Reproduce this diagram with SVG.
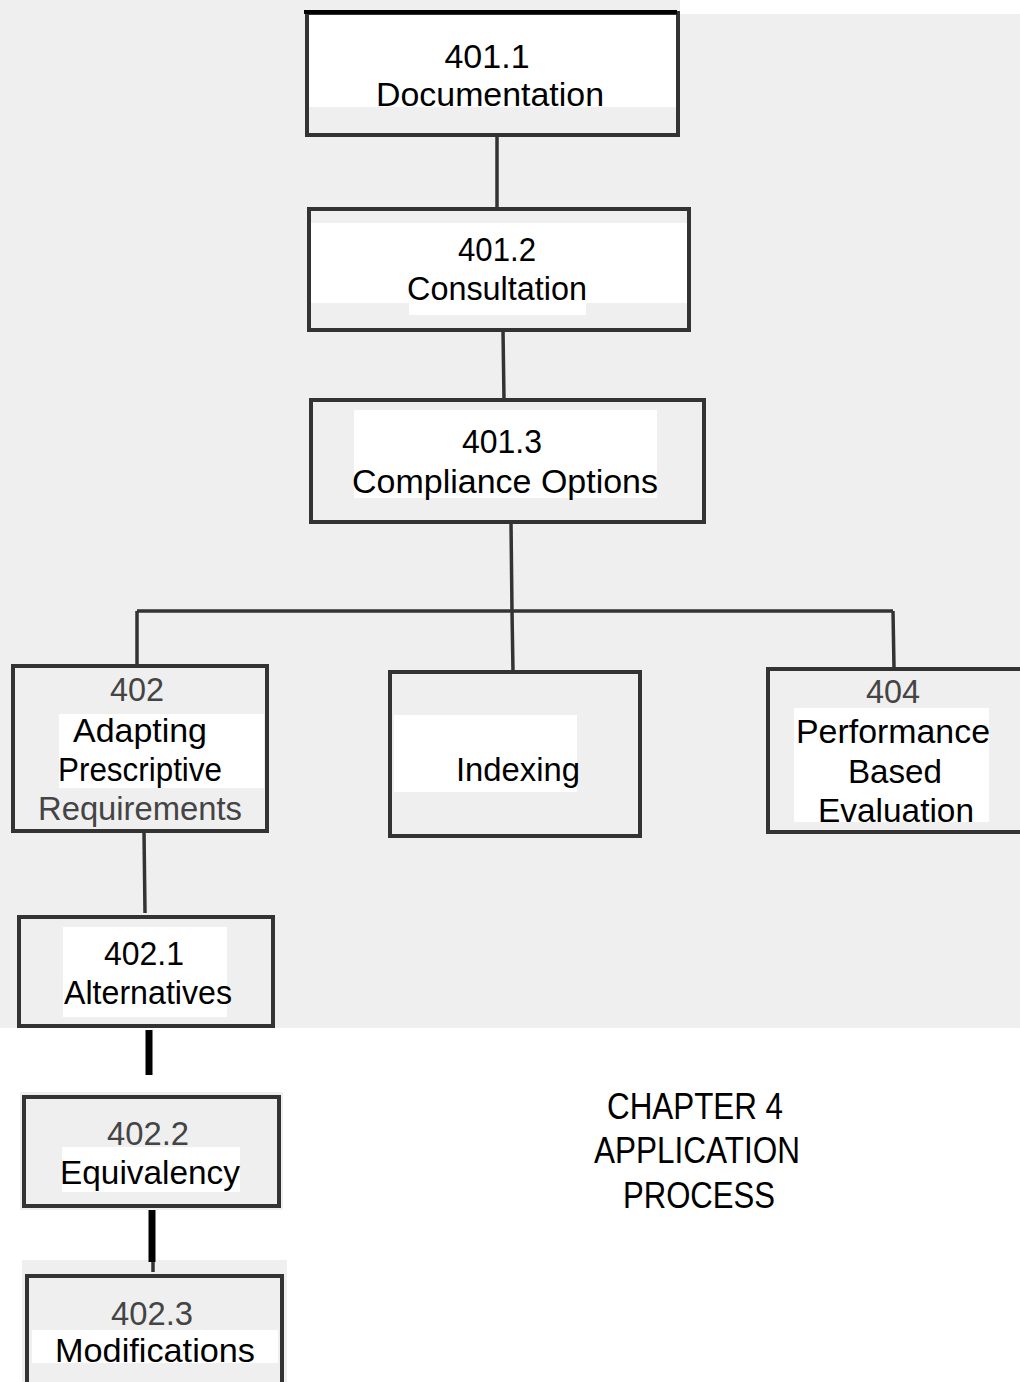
<svg xmlns="http://www.w3.org/2000/svg" width="1020" height="1382" viewBox="0 0 1020 1382">
<style>
.bg{fill:#efefef}
.wp{fill:#ffffff}
.box{fill:none;stroke:#333;stroke-width:4}
.ln{fill:none;stroke:#333;stroke-width:3.5}
.tk{fill:none;stroke:#000;stroke-width:7}
text{font-family:"Liberation Sans",Arial,sans-serif;font-size:34px;fill:#000;text-anchor:middle}
.g{fill:#444}
.ch{font-size:37px}
</style>
<rect x="0" y="0" width="1020" height="1382" fill="#ffffff"/>
<rect class="bg" x="0" y="0" width="1020" height="1028"/>
<rect fill="#ffffff" x="680" y="0" width="340" height="14"/>
<rect class="bg" x="20" y="1092" width="263" height="118"/>
<rect class="bg" x="22" y="1260" width="265" height="122"/>

<g id="connectors">
  <line class="ln" x1="497" y1="135" x2="497" y2="208"/>
  <line class="ln" x1="503" y1="330" x2="504" y2="400"/>
  <line class="ln" x1="511" y1="522" x2="512" y2="611"/>
  <line class="ln" x1="137" y1="611" x2="893" y2="611"/>
  <line class="ln" x1="137" y1="611" x2="137" y2="665"/>
  <line class="ln" x1="512" y1="611" x2="513" y2="672"/>
  <line class="ln" x1="893" y1="611" x2="894" y2="668"/>
  <line class="ln" x1="144" y1="832" x2="145" y2="913"/>
  <line class="tk" x1="149" y1="1030" x2="149" y2="1075"/>
  <line class="tk" x1="152" y1="1210" x2="152" y2="1262"/>
  <line class="ln" x1="153" y1="1262" x2="153" y2="1272"/>
</g>

<g id="n4011">
  <rect class="wp" x="306" y="14" width="372" height="93"/>
  <rect class="box" x="307" y="13" width="371" height="122"/>
  <line x1="304" y1="12" x2="677" y2="12" stroke="#000" stroke-width="4"/>
  <text x="487" y="68">401.1</text>
  <text x="490" y="106" textLength="228" lengthAdjust="spacingAndGlyphs">Documentation</text>
</g>

<g id="n4012">
  <rect class="wp" x="308" y="223" width="380" height="80"/>
  <rect class="wp" x="409" y="303" width="177" height="12"/>
  <rect class="box" x="309" y="209" width="380" height="121"/>
  <text x="497" y="261" textLength="78" lengthAdjust="spacingAndGlyphs">401.2</text>
  <text x="497" y="300" textLength="180" lengthAdjust="spacingAndGlyphs">Consultation</text>
</g>

<g id="n4013">
  <rect class="wp" x="354" y="410" width="303" height="88"/>
  <rect class="box" x="311" y="400" width="393" height="122"/>
  <text x="502" y="453" textLength="80" lengthAdjust="spacingAndGlyphs">401.3</text>
  <text x="505" y="493" textLength="306" lengthAdjust="spacingAndGlyphs">Compliance Options</text>
</g>

<g id="n402">
  <rect class="wp" x="59" y="714" width="205" height="74"/>
  <rect class="box" x="13" y="666" width="254" height="165"/>
  <text class="g" x="137" y="701" textLength="54" lengthAdjust="spacingAndGlyphs">402</text>
  <text x="140" y="742" textLength="134" lengthAdjust="spacingAndGlyphs">Adapting</text>
  <text x="140" y="781" textLength="164" lengthAdjust="spacingAndGlyphs">Prescriptive</text>
  <text class="g" x="140" y="820" textLength="204" lengthAdjust="spacingAndGlyphs">Requirements</text>
</g>

<g id="nindexing">
  <rect class="wp" x="394" y="715" width="183" height="77"/>
  <rect class="box" x="390" y="672" width="250" height="164"/>
  <text x="518" y="781" textLength="124" lengthAdjust="spacingAndGlyphs">Indexing</text>
</g>

<g id="n404">
  <rect class="wp" x="794" y="708" width="195" height="114"/>
  <rect class="box" x="768" y="669" width="260" height="163"/>
  <text class="g" x="893" y="703" textLength="54" lengthAdjust="spacingAndGlyphs">404</text>
  <text x="893" y="743" textLength="194" lengthAdjust="spacingAndGlyphs">Performance</text>
  <text x="895" y="783" textLength="94" lengthAdjust="spacingAndGlyphs">Based</text>
  <text x="896" y="822" textLength="156" lengthAdjust="spacingAndGlyphs">Evaluation</text>
</g>

<g id="n4021">
  <rect class="wp" x="63" y="927" width="164" height="90"/>
  <rect class="box" x="19" y="917" width="254" height="109"/>
  <text x="144" y="965" textLength="80" lengthAdjust="spacingAndGlyphs">402.1</text>
  <text x="148" y="1004" textLength="168" lengthAdjust="spacingAndGlyphs">Alternatives</text>
</g>

<g id="n4022">
  <rect class="wp" x="62" y="1147" width="178" height="45"/>
  <rect class="box" x="24" y="1097" width="255" height="109"/>
  <text class="g" x="148" y="1145" textLength="82" lengthAdjust="spacingAndGlyphs">402.2</text>
  <text x="150" y="1184" textLength="180" lengthAdjust="spacingAndGlyphs">Equivalency</text>
</g>

<g id="n4023">
  <rect class="wp" x="32" y="1330" width="246" height="33"/>
  <rect class="box" x="27" y="1276" width="255" height="120"/>
  <text class="g" x="152" y="1325" textLength="82" lengthAdjust="spacingAndGlyphs">402.3</text>
  <text x="155" y="1362" textLength="200" lengthAdjust="spacingAndGlyphs">Modifications</text>
</g>

<g id="title">
  <text class="ch" x="695" y="1119" textLength="176" lengthAdjust="spacingAndGlyphs">CHAPTER 4</text>
  <text class="ch" x="697" y="1163" textLength="206" lengthAdjust="spacingAndGlyphs">APPLICATION</text>
  <text class="ch" x="699" y="1208" textLength="152" lengthAdjust="spacingAndGlyphs">PROCESS</text>
</g>
</svg>
